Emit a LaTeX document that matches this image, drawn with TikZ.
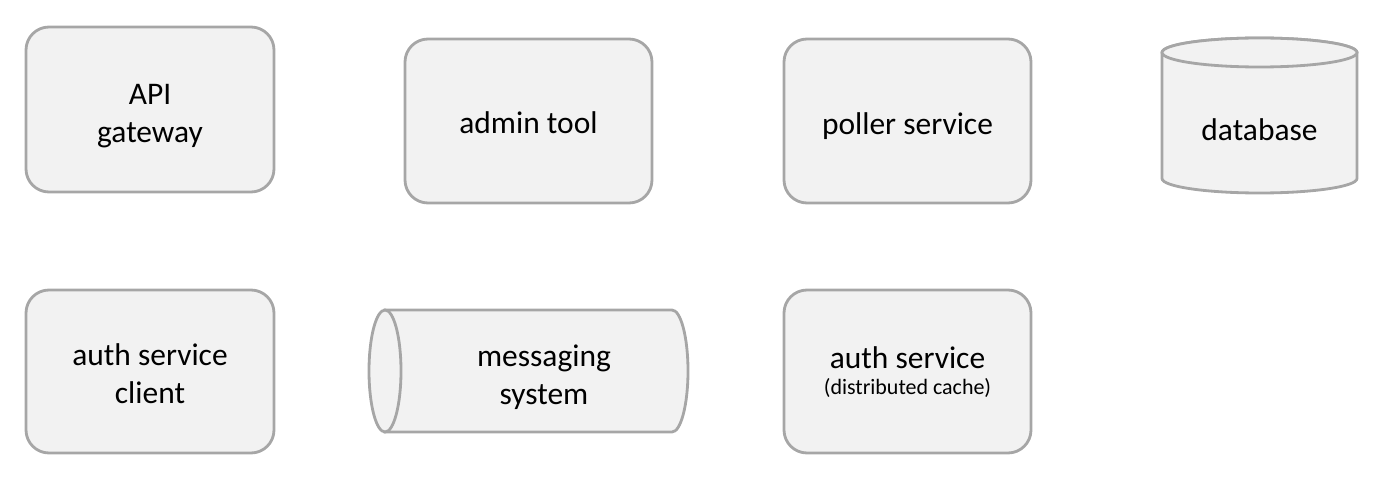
\documentclass[tikz,border=0pt]{standalone}
\usepackage{fontspec}
\setmainfont{Carlito}
\usepackage{tikz}
\definecolor{edgegray}{HTML}{A6A6A6}
\definecolor{fillgray}{HTML}{F2F2F2}

\begin{document}
\begin{tikzpicture}[every node/.style={font=\fontsize{17.9pt}{21.6pt}\selectfont, align=center},
  svcbox/.style={draw=edgegray, fill=fillgray, line width=1.6pt, rounded corners=0.46cm},
  drum/.style={draw=edgegray, fill=fillgray, line width=1.6pt}]
\useasboundingbox (0,0) rectangle (27.8,9.52);

% Top row
\draw[svcbox] (0.52,5.68) rectangle (5.48,8.98);
\node (gateway) at (3.0,7.19) {API\\gateway};
\draw[svcbox] (8.10,5.46) rectangle (13.04,8.74);
\node (admin) at (10.57,7.06) {admin tool};
\draw[svcbox] (15.68,5.46) rectangle (20.62,8.74);
\node (poller) at (18.15,6.99) {poller service};

% database drum
\draw[drum] (23.24,8.47) -- (23.24,5.95) arc[start angle=180, end angle=360, x radius=1.95, y radius=0.29]
  -- (27.14,8.47) arc[start angle=0, end angle=180, x radius=1.95, y radius=0.29] -- cycle;
\draw[drum] (25.19,8.47) ellipse[x radius=1.95, y radius=0.29];
\node (db) at (25.19,6.93) {database};

% Bottom row
\draw[svcbox] (0.52,0.46) rectangle (5.48,3.72);
\node (authclient) at (3.0,2.04) {auth service\\client};

% messaging drum, lying on its side
\draw[drum] (7.70,3.32) -- (13.44,3.32) arc[start angle=90, end angle=-90, x radius=0.32, y radius=1.22]
  -- (7.70,0.88) -- cycle;
\draw[drum] (7.70,2.10) ellipse[x radius=0.32, y radius=1.22];
\node (msg) at (10.88,1.97) {messaging\\system};

\draw[svcbox] (15.68,0.46) rectangle (20.62,3.72);
\node (authsvc) at (18.15,2.08) {auth service\\[-6.8pt]{\fontsize{12.5pt}{15pt}\selectfont (distributed cache)}};
\end{tikzpicture}
\end{document}
